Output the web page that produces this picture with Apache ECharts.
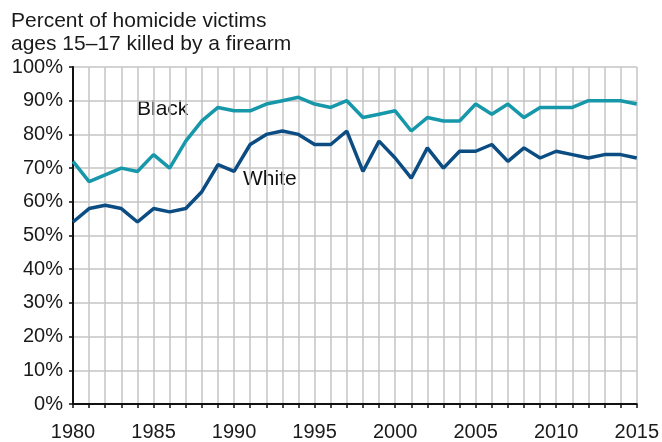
<!DOCTYPE html>
<html>
<head>
<meta charset="utf-8">
<script src="https://cdn.jsdelivr.net/npm/echarts@6/dist/echarts.min.js"></script>
<style>
  html, body { margin: 0; padding: 0; background: #fff; }
  #main { width: 662px; height: 442px; }
</style>
</head>
<body>
<div id="main"></div>
<script>
// years 1980..2015
const years = []
for (let y = 1980; y <= 2015; y++) years.push(y)

const blackPct = [72, 66, 68, 70, 69, 74, 70, 78, 84, 88, 87, 87, 89, 90, 91, 89, 88, 90,
  85, 86, 87, 81, 85, 84, 84, 89, 86, 89, 85, 88, 88, 88, 90, 90, 90, 89]
const whitePct = [54, 58, 59, 58, 54, 58, 57, 58, 63, 71, 69, 77, 80, 81, 80, 77, 77, 81,
  69, 78, 73, 67, 76, 70, 75, 75, 77, 72, 76, 73, 75, 74, 73, 74, 74, 73]

const titleLines = ['Percent of homicide victims', 'ages 15\u201317 killed by a firearm']

const font = 'Liberation Sans, Arial, Helvetica, sans-serif'

const myChart = echarts.init(document.getElementById('main'))

const option = {
  animation: false,
  title: {
    text: titleLines.join('\n'),
    left: 6,
    top: 5,
    textStyle: { fontFamily: font, fontSize: 21, fontWeight: 'normal', color: '#1a1a1a', lineHeight: 23 }
  },
  grid: { left: 73, right: 25, top: 67, bottom: 37 },
  xAxis: {
    type: 'value',
    min: 1980,
    max: 2015,
    interval: 1,
    axisLine: { lineStyle: { color: '#111', width: 2 } },
    axisTick: { show: true, length: 4, lineStyle: { color: '#111', width: 1.5 } },
    axisLabel: {
      fontFamily: font, fontSize: 20, color: '#1a1a1a', margin: 18,
      formatter: (v) => (v % 5 === 0 ? String(v) : '')
    },
    splitLine: { show: true, lineStyle: { color: '#c4c4c4', width: 1.5 } }
  },
  yAxis: {
    type: 'value',
    min: 0,
    max: 100,
    interval: 10,
    axisLine: { show: true, lineStyle: { color: '#111', width: 2 } },
    axisTick: { show: true, length: 4, lineStyle: { color: '#111', width: 1.5 } },
    axisLabel: { fontFamily: font, fontSize: 20, color: '#1a1a1a', margin: 10, formatter: '{value}%' },
    splitLine: { show: true, lineStyle: { color: '#c4c4c4', width: 1.5 } }
  },
  series: [
    {
      name: 'Black',
      type: 'line',
      symbol: 'none',
      data: years.map((y, i) => [y, blackPct[i]]),
      lineStyle: { color: '#1697aa', width: 3.5 },
      z: 3
    },
    {
      name: 'White',
      type: 'line',
      symbol: 'none',
      data: years.map((y, i) => [y, whitePct[i]]),
      lineStyle: { color: '#0b4d83', width: 3.5 },
      z: 4
    }
  ],
  graphic: [
    { type: 'text', left: 137, top: 99, style: { text: 'Black', font: '21px ' + font, fill: '#111' } },
    { type: 'text', left: 243, top: 169, style: { text: 'White', font: '21px ' + font, fill: '#111' } }
  ]
}

myChart.setOption(option)
</script>
</body>
</html>
